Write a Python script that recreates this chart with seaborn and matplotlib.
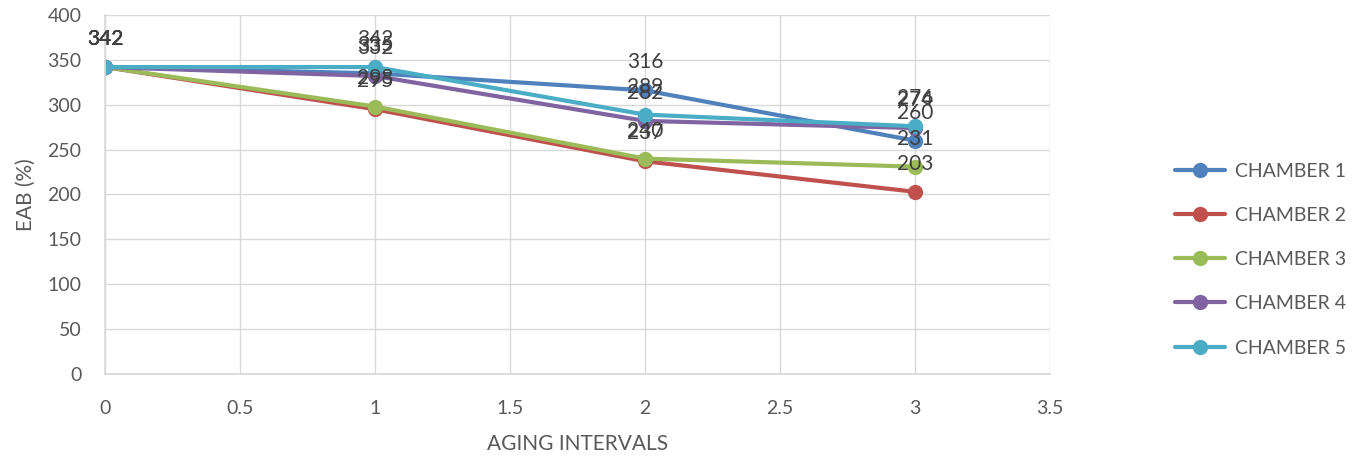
import matplotlib
matplotlib.use("Agg")
import matplotlib.pyplot as plt
import seaborn as sns
import pandas as pd

intervals = [0, 1, 2, 3]
chamber_1 = [342, 335, 316, 260]
chamber_2 = [342, 295, 237, 203]
chamber_3 = [342, 298, 240, 231]
chamber_4 = [342, 332, 282, 274]
chamber_5 = [342, 342, 289, 276]
series_names = ["CHAMBER 1", "CHAMBER 2", "CHAMBER 3", "CHAMBER 4", "CHAMBER 5"]
series_values = [chamber_1, chamber_2, chamber_3, chamber_4, chamber_5]
colors = ["#4F81BD", "#C0504D", "#9BBB59", "#8064A2", "#4BACC6"]

rows = []
for name, vals in zip(series_names, series_values):
    for x, v in zip(intervals, vals):
        rows.append({"interval": x, "eab": v, "chamber": name})
df = pd.DataFrame(rows)

sns.set_theme(style="white")
plt.rcParams["font.family"] = ["Lato", "DejaVu Sans"]

fig = plt.figure(figsize=(13.55, 4.57), dpi=100)
ax = fig.add_axes([0.0775, 0.1816, 0.6974, 0.7856])

sns.lineplot(data=df, x="interval", y="eab", hue="chamber", palette=colors,
             marker="o", markersize=11, markeredgewidth=0, linewidth=3,
             ax=ax, legend=True)
handles, labels = ax.get_legend_handles_labels()
ax.get_legend().remove()

# value labels above each point
for name, vals, c in zip(series_names, series_values, colors):
    for x, v in zip(intervals, vals):
        ax.annotate(f"{v}", (x, v), xytext=(0, 13), textcoords="offset points",
                    ha="center", va="bottom", fontsize=15, color="#404040")

ax.set_xlim(0, 3.5)
ax.set_ylim(0, 400)
ax.set_xticks([0, 0.5, 1, 1.5, 2, 2.5, 3, 3.5])
ax.set_xticklabels(["0", "0.5", "1", "1.5", "2", "2.5", "3", "3.5"])
ax.set_yticks(range(0, 401, 50))
ax.grid(True, color="#D9D9D9", linewidth=1)
ax.set_axisbelow(True)
for s in ["top", "right"]:
    ax.spines[s].set_visible(False)
for s in ["left", "bottom"]:
    ax.spines[s].set_color("#D9D9D9")
ax.tick_params(axis="x", labelsize=14, colors="#595959", length=0, pad=19)
ax.tick_params(axis="y", labelsize=14, colors="#595959", length=0, pad=17)
ax.set_xlabel("AGING INTERVALS", fontsize=15, color="#595959", labelpad=12)
ax.set_ylabel("EAB (%)", fontsize=15, color="#595959", labelpad=8)

fig.legend(handles, labels, loc="center left", bbox_to_anchor=(0.867, 0.432),
           frameon=False, fontsize=14, labelspacing=1.4, handlelength=2.6,
           handletextpad=0.5, borderaxespad=0, borderpad=0,
           labelcolor="#595959")

fig.savefig("out.png", dpi=100)
